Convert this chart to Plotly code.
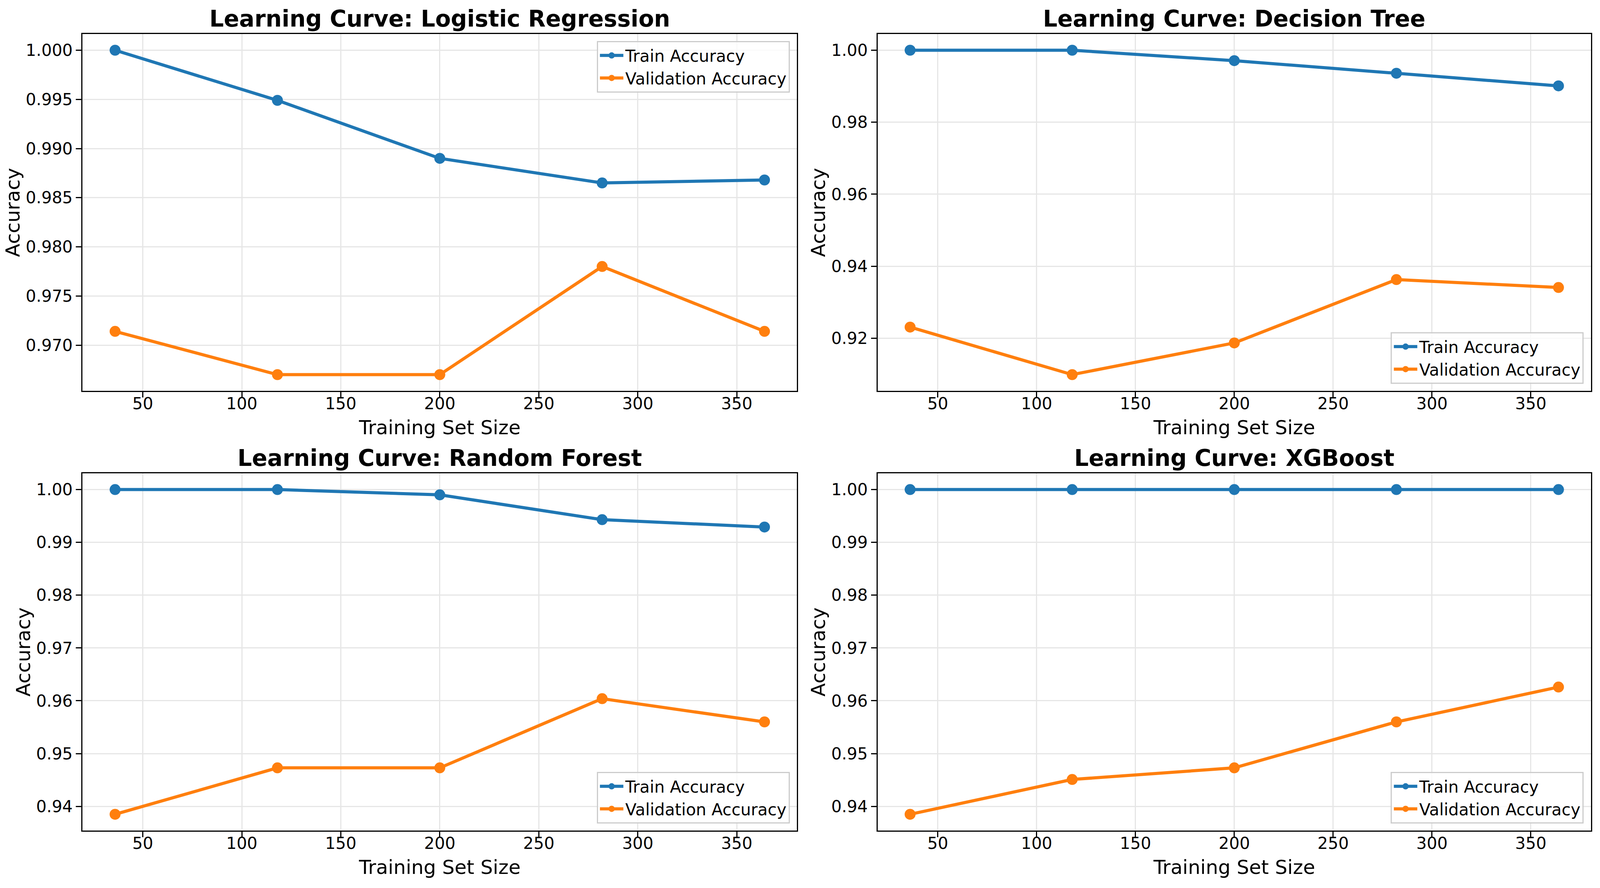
import plotly.graph_objects as go
from plotly.subplots import make_subplots

# training sizes used by learning_curve
train_sizes = [36, 118, 200, 282, 364]

model_names = ['Logistic Regression', 'Decision Tree', 'Random Forest', 'XGBoost']

lr_train = [1.0, 0.9949, 0.9890, 0.9865, 0.9868]
lr_val = [0.9714, 0.9670, 0.9670, 0.9780, 0.9714]

dt_train = [1.0, 1.0, 0.9971, 0.9936, 0.9901]
dt_val = [0.9231, 0.9099, 0.9187, 0.9363, 0.9341]

rf_train = [1.0, 1.0, 0.9990, 0.9943, 0.9929]
rf_val = [0.9385, 0.9473, 0.9473, 0.9604, 0.9560]

xgb_train = [1.0, 1.0, 1.0, 1.0, 1.0]
xgb_val = [0.9385, 0.9451, 0.9473, 0.9560, 0.9626]

x_ticks = [50, 100, 150, 200, 250, 300, 350]

BLUE = '#1f77b4'
ORANGE = '#ff7f0e'
FONT = 'DejaVu Sans'
W, H = 4222, 2272

# panel boxes in pixels of the reference (left, right, top, bottom)
cols_px = [(218, 2103), (2316, 4198)]
rows_px = [(87, 1000), (1211, 2125)]

panels = [
    (lr_train, lr_val, 0.005, '.3f', 'upper'),
    (dt_train, dt_val, 0.02, '.2f', 'lower'),
    (rf_train, rf_val, 0.01, '.2f', 'lower'),
    (xgb_train, xgb_val, 0.01, '.2f', 'lower'),
]

fig = make_subplots(rows=2, cols=2)


def padded(vals, frac=0.05):
    lo, hi = min(vals), max(vals)
    pad = (hi - lo) * frac
    return [lo - pad, hi + pad]


annotations = []
for i, (tr, va, dtick, fmt, legpos) in enumerate(panels):
    r, c = i // 2 + 1, i % 2 + 1
    leg = 'legend' if i == 0 else 'legend%d' % (i + 1)
    fig.add_trace(go.Scatter(x=train_sizes, y=tr, mode='lines+markers', name='Train Accuracy',
                             line=dict(color=BLUE, width=8), marker=dict(size=28, color=BLUE),
                             legend=leg), row=r, col=c)
    fig.add_trace(go.Scatter(x=train_sizes, y=va, mode='lines+markers', name='Validation Accuracy',
                             line=dict(color=ORANGE, width=8), marker=dict(size=28, color=ORANGE),
                             legend=leg), row=r, col=c)

    left, right = cols_px[c - 1]
    top, bottom = rows_px[r - 1]
    xd = [left / W, right / W]
    yd = [1 - bottom / H, 1 - top / H]
    fig.update_xaxes(domain=xd, range=padded(train_sizes), tickvals=x_ticks,
                     title=dict(text='Training Set Size', font=dict(size=50, color='black'), standoff=20),
                     row=r, col=c)
    fig.update_yaxes(domain=yd, range=padded(tr + va), dtick=dtick, tickformat=fmt,
                     title=dict(text='Accuracy', font=dict(size=50, color='black'), standoff=0),
                     row=r, col=c)

    if legpos == 'upper':
        ly, lya = yd[1] - 18 / H, 'top'
    else:
        ly, lya = yd[0] + 18 / H, 'bottom'
    fig.update_layout({leg: dict(x=xd[1] - 19 / W, xanchor='right', y=ly, yanchor=lya,
                                 bgcolor='rgba(255,255,255,0.8)', bordercolor='#cccccc', borderwidth=3,
                                 font=dict(size=42, color='black', family=FONT),
                                 itemwidth=60, tracegroupgap=0)})

    annotations.append(dict(text='<b>Learning Curve: %s</b>' % model_names[i],
                            x=(xd[0] + xd[1]) / 2, y=yd[1], xref='paper', yref='paper',
                            xanchor='center', yanchor='bottom', yshift=3, showarrow=False,
                            font=dict(size=58, color='black', family=FONT)))

fig.update_xaxes(showline=True, mirror=True, linecolor='black', linewidth=3,
                 ticks='outside', ticklen=14, tickwidth=3, tickcolor='black',
                 showgrid=True, gridcolor='#e6e6e6', gridwidth=3, zeroline=False,
                 ticklabelstandoff=-20, tickfont=dict(size=42, color='black'))
fig.update_yaxes(showline=True, mirror=True, linecolor='black', linewidth=3,
                 ticks='outside', ticklen=14, tickwidth=3, tickcolor='black',
                 showgrid=True, gridcolor='#e6e6e6', gridwidth=3, zeroline=False,
                 tickfont=dict(size=42, color='black'))

fig.update_layout(autosize=True, margin=dict(l=0, r=0, t=0, b=0),
                  paper_bgcolor='white', plot_bgcolor='white',
                  font=dict(family=FONT, color='black'),
                  annotations=annotations, showlegend=True)

fig.write_html("out.html", default_width='100%', default_height='100%',
               config={'displayModeBar': False},
               post_script="document.body.style.margin='0';document.documentElement.style.height='100%';"
                           "document.body.style.height='100%';Plotly.Plots.resize(document.getElementById('{plot_id}'));")
